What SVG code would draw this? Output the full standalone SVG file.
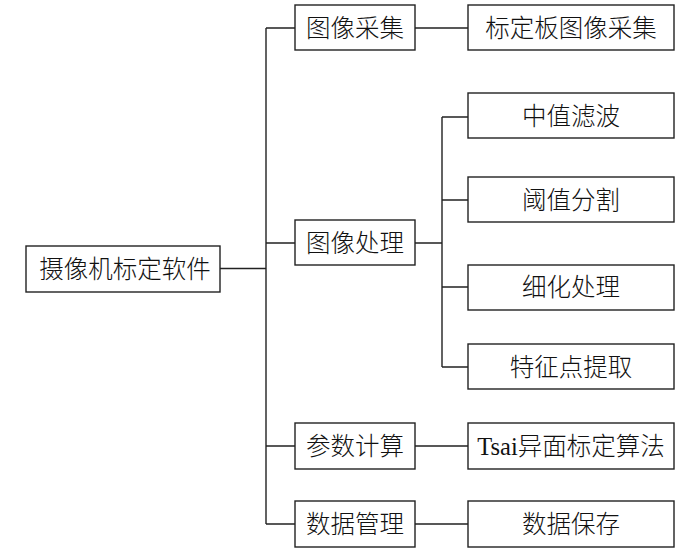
<svg xmlns="http://www.w3.org/2000/svg" width="700" height="551" viewBox="0 0 700 551">
<style>
.box{fill:#fff;stroke:#222;stroke-width:1.4}
.ln{fill:none;stroke:#222;stroke-width:1.4}
text{font-family:"Liberation Serif","Noto Sans CJK SC",serif;font-size:24.5px;font-weight:300;fill:#111;text-anchor:middle;dominant-baseline:central}
</style>
<rect width="700" height="551" fill="#fff"/>
<g id="connectors">
<path class="ln" d="M220,268.5H266M266,28V524M266,28H295M266,243H295M266,446H295M266,524H295"/>
<path class="ln" d="M415,28H468M415,243H442M442,117V367M442,117H468M442,200H468M442,287H468M442,367H468M415,446H468M415,524H468"/>
</g>
<g id="root"><rect class="box" x="26" y="246" width="194" height="46"/><text x="125" y="269">摄像机标定软件</text></g>
<g id="n1"><rect class="box" x="295" y="5" width="120" height="45"/><text x="355" y="28">图像采集</text></g>
<g id="n2"><rect class="box" x="295" y="220" width="120" height="45"/><text x="355" y="243">图像处理</text></g>
<g id="n3"><rect class="box" x="295" y="423" width="120" height="46"/><text x="355" y="446">参数计算</text></g>
<g id="n4"><rect class="box" x="295" y="501" width="120" height="46"/><text x="355" y="524">数据管理</text></g>
<g id="n11"><rect class="box" x="468" y="5" width="206" height="45"/><text x="571" y="28">标定板图像采集</text></g>
<g id="n21"><rect class="box" x="468" y="93" width="206" height="45"/><text x="571" y="116">中值滤波</text></g>
<g id="n22"><rect class="box" x="468" y="177" width="206" height="45"/><text x="571" y="200">阈值分割</text></g>
<g id="n23"><rect class="box" x="468" y="265" width="206" height="45"/><text x="571" y="287">细化处理</text></g>
<g id="n24"><rect class="box" x="468" y="344" width="206" height="45"/><text x="571" y="367">特征点提取</text></g>
<g id="n31"><rect class="box" x="468" y="423" width="206" height="46"/><text x="571" y="446">Tsai异面标定算法</text></g>
<g id="n41"><rect class="box" x="468" y="501" width="206" height="46"/><text x="571" y="524">数据保存</text></g>
</svg>
